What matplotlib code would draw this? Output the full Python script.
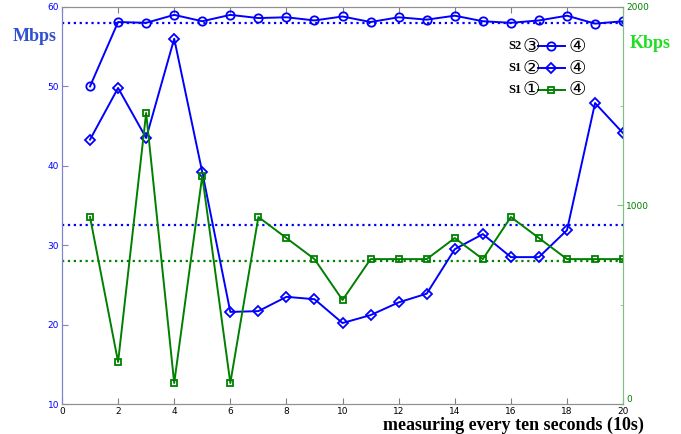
import matplotlib.pyplot as plt
import numpy as np

# measurement index
x = np.arange(1, 21)
# S2 3->4 (Mbps)
s2_34 = [50, 58.1, 58.0, 59.0, 58.2, 59.0, 58.6, 58.7, 58.3, 58.8,
         58.1, 58.7, 58.4, 58.9, 58.2, 58.0, 58.3, 58.9, 57.9, 58.2]
# S1 2->4 (Mbps)
s1_24 = [43.3, 49.8, 43.5, 56.0, 39.2, 21.6, 21.7, 23.5, 23.2, 20.2,
         21.2, 22.8, 23.9, 29.5, 31.4, 28.5, 28.5, 31.9, 47.9, 44.1]
# S1 1->4 (Kbps)
s1_14 = [942, 212, 1466, 106, 1149, 106, 942, 836, 730, 524,
         730, 730, 730, 836, 730, 942, 836, 730, 730, 730]
# averages (Mbps on the left axis)
avg_s2 = 58.0
avg_s1_24 = 32.5
avg_s1_14 = 28.0

blue = (0, 0, 1)
green = (0, 0.5, 0)

fig = plt.figure(figsize=(6.81, 4.34), dpi=100)
ax = fig.add_axes([0.091, 0.069, 0.824, 0.915])
ax2 = ax.twinx()

ax.axhline(avg_s2, color=blue, ls=':', lw=1.6)
ax.axhline(avg_s1_24, color=blue, ls=':', lw=1.6)
ax.axhline(avg_s1_14, color=green, ls=':', lw=1.6)
ax.plot(x, s2_34, '-o', color=blue, mfc='none', mew=1.3, ms=6, lw=1.4)
ax.plot(x, s1_24, '-D', color=blue, mfc='none', mew=1.3, ms=5, lw=1.4)
ax2.plot(x, s1_14, '-s', color=green, mfc='none', mew=1.3, ms=5, lw=1.4)

ax.set_xlim(0, 20)
ax.set_ylim(10, 60)
ax2.set_ylim(0, 2000)
ax.set_xticks(np.arange(0, 21, 2))
ax.set_yticks(np.arange(10, 61, 10))
ax2.set_yticks([0, 1000, 2000])
ax2.set_yticks([500, 1500], minor=True)

ax.tick_params(axis='x', direction='in', top=True, labelsize=6.5, colors='#808080',
               labelcolor='black', length=4, pad=2)
ax.tick_params(axis='y', direction='in', labelsize=6.5, colors='#8080d0',
               labelcolor=blue, length=4, pad=2)
ax2.tick_params(axis='y', which='both', direction='in', labelsize=6.5, colors='#80c080',
                labelcolor=green, length=4, pad=2)
ax2.tick_params(axis='y', which='minor', length=2)
ax2.get_yticklabels()[0].set_va('bottom')
for a in (ax, ax2):
    a.spines['top'].set_color('#909090')
    a.spines['bottom'].set_color('#909090')
    a.spines['left'].set_color('#8080d0')
    a.spines['right'].set_color('#80c080')

fig.text(0.018, 0.905, 'Mbps', color='#3050d0', fontsize=13, fontweight='bold',
         family='Liberation Serif')
fig.text(0.925, 0.89, 'Kbps', color='#22dd22', fontsize=13, fontweight='bold',
         family='Liberation Serif')
fig.text(0.562, 0.01, 'measuring every ten seconds (10s)', color='black', fontsize=13,
         fontweight='bold', family='Liberation Serif')

# hand-made legend
rows = [('S2', '\u2462', blue, 'o', 6), ('S1', '\u2461', blue, 'D', 5), ('S1', '\u2460', green, 's', 5)]
fam = ['DejaVu Sans']
for i, (name, circ, c, m, s) in enumerate(rows):
    yy = 0.901 - i * 0.055
    ax2.text(0.795, yy, name, transform=ax2.transAxes, fontsize=9, fontweight='bold',
             family='Liberation Serif', va='center')
    ax2.text(0.821, yy, circ, transform=ax2.transAxes, fontsize=14, family=fam,
             va='center')
    ax2.plot([0.848, 0.896], [yy, yy], color=c, lw=1.4, transform=ax2.transAxes)
    ax2.plot([0.872], [yy], marker=m, color=c, mfc='none', mew=1.3, ms=s,
             transform=ax2.transAxes)
    ax2.text(0.903, yy, '\u2463', transform=ax2.transAxes, fontsize=14, family=fam,
             va='center')

fig.savefig('out.png', dpi=100)
